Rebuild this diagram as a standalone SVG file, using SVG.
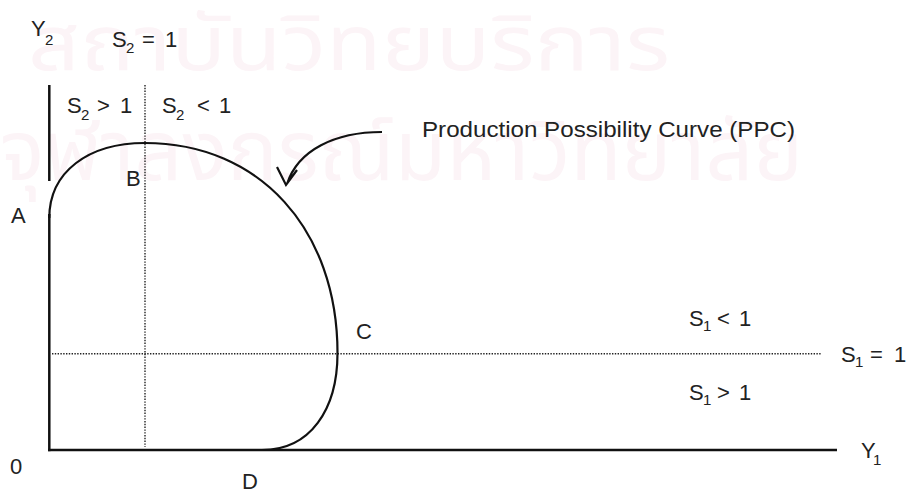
<svg xmlns="http://www.w3.org/2000/svg" width="909" height="494" viewBox="0 0 909 494">
<style>
  .wm { font-family: "Noto Sans Thai", "Noto Sans", "DejaVu Sans", sans-serif; fill: #fcf4f7; }
  .t { font-family: "Liberation Sans", Arial, sans-serif; font-size: 22px; fill: #222; }
  .sub { font-size: 15px; }
  .axis { stroke: #111; stroke-width: 2.5; fill: none; }
  .dot { stroke: #222; stroke-width: 1.4; stroke-dasharray: 1.4 1.4; fill: none; }
  .curve { stroke: #111; stroke-width: 2.2; fill: none; }
</style>
<rect width="909" height="494" fill="#fff"/>
<g id="watermark">
  <text class="wm" x="28" y="70" font-size="76" textLength="642" lengthAdjust="spacingAndGlyphs">สถาบันวิทยบริการ</text>
  <text class="wm" x="0" y="180" font-size="84" textLength="803" lengthAdjust="spacingAndGlyphs">จุฬาลงกรณ์มหาวิทยาลัย</text>
</g>
<g id="connectors">
  <line class="axis" x1="49.3" y1="85" x2="49.3" y2="181"/>
  <line class="axis" x1="49.3" y1="214" x2="49.3" y2="451.2"/>
  <line class="axis" x1="48" y1="450" x2="837" y2="450"/>
  <line class="dot" x1="145" y1="85" x2="145" y2="447"/>
  <line class="dot" x1="52" y1="353.7" x2="822" y2="353.7"/>
  <path id="ppc" class="curve" d="M49.3,218 C49.3,172 88,143 145,143 C260,143 337.5,230 337.5,353 C337.5,410 310,450 262,450"/>
  <path id="arrow" class="curve" d="M382,132 C335,132 298,150 287,184 M277,167 L286,185 L297,170"/>
</g>
<g id="label-Y2"><text class="t" y="36"><tspan x="31">Y</tspan><tspan class="sub" x="45" dy="9">2</tspan></text></g>
<g id="label-S2eq"><text class="t" y="47"><tspan x="112">S</tspan><tspan class="sub" x="126" dy="6">2</tspan><tspan x="142" dy="-6">=</tspan><tspan x="165">1</tspan></text></g>
<g id="label-S2gt"><text class="t" y="113"><tspan x="67">S</tspan><tspan class="sub" x="81" dy="7">2</tspan><tspan x="97" dy="-7">&gt;</tspan><tspan x="120">1</tspan></text></g>
<g id="label-S2lt"><text class="t" y="113"><tspan x="162">S</tspan><tspan class="sub" x="176" dy="7">2</tspan><tspan x="197" dy="-7">&lt;</tspan><tspan x="219">1</tspan></text></g>
<g id="label-PPC"><text class="t" x="422" y="137" textLength="373" lengthAdjust="spacingAndGlyphs">Production Possibility Curve (PPC)</text></g>
<g id="node-A"><text class="t" x="11" y="223">A</text></g>
<g id="node-B"><text class="t" x="126" y="186">B</text></g>
<g id="node-C"><text class="t" x="356" y="339">C</text></g>
<g id="node-D"><text class="t" x="242" y="489">D</text></g>
<g id="node-0"><text class="t" x="10" y="474">0</text></g>
<g id="label-S1lt"><text class="t" y="326"><tspan x="689">S</tspan><tspan class="sub" x="703" dy="5">1</tspan><tspan x="717" dy="-5">&lt;</tspan><tspan x="739">1</tspan></text></g>
<g id="label-S1eq"><text class="t" y="362"><tspan x="841">S</tspan><tspan class="sub" x="855" dy="5">1</tspan><tspan x="870" dy="-5">=</tspan><tspan x="894">1</tspan></text></g>
<g id="label-S1gt"><text class="t" y="400"><tspan x="689">S</tspan><tspan class="sub" x="703" dy="5">1</tspan><tspan x="717" dy="-5">&gt;</tspan><tspan x="739">1</tspan></text></g>
<g id="label-Y1"><text class="t" y="458"><tspan x="861">Y</tspan><tspan class="sub" x="873" dy="7">1</tspan></text></g>
</svg>
